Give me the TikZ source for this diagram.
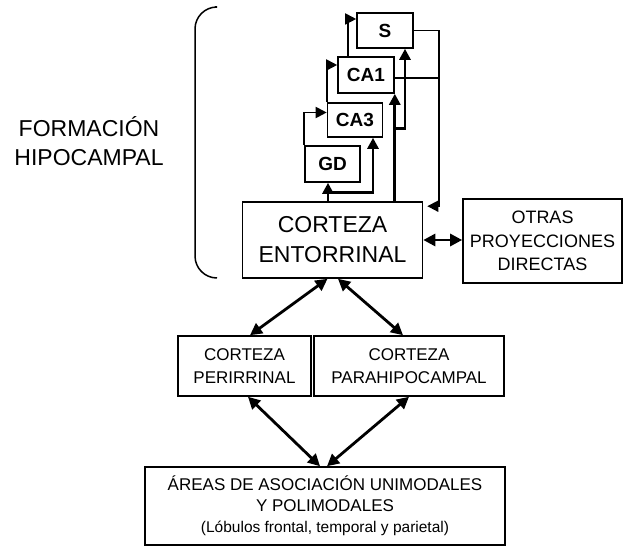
\documentclass[tikz,border=0pt]{standalone}
\usepackage{fontspec}
\setmainfont{Liberation Sans}
\usetikzlibrary{arrows.meta}

\begin{document}
\begin{tikzpicture}[x=1pt, y=-1pt, % pixel-like units, y going down
    caja/.style={draw, line width=1.6pt, inner sep=0pt, align=center},
    hipo/.style={caja, font=\fontsize{19}{22}\selectfont\bfseries},
    via/.style={line width=1.8pt, -{Triangle[length=11pt,width=11pt]}},
    perforante/.style={via, line width=2.8pt},
    doble/.style={line width=2.8pt, {Triangle[length=12pt,width=12pt]}-{Triangle[length=12pt,width=12pt]}}]

        \useasboundingbox (0,0) rectangle (627,548);

        % Hippocampal formation label and bracket
        \node[align=center, font=\fontsize{23}{29}\selectfont] (formacion) at (89,141.5) {FORMACIÓN\\HIPOCAMPAL};
        \draw[line width=1.5pt, rounded corners=22pt] (215,7) -- (195,7) -- (195,278) -- (217,278);

        % Hippocampal boxes
        \node[hipo, minimum width=56, minimum height=35] (S) at (385,30.5) {S};
        \node[hipo, minimum width=56, minimum height=36] (CA1) at (366,75) {CA1};
        \node[hipo, minimum width=55, minimum height=34] (CA3) at (355,120) {CA3};
        \node[hipo, minimum width=55, minimum height=36] (GD) at (332.5,164) {GD};

        % Cortical boxes
        \node[caja, minimum width=180, minimum height=76, font=\fontsize{23}{30}\selectfont] (ento) at (332.5,240) {CORTEZA\\ENTORRINAL};
        \node[caja, minimum width=159, minimum height=84, font=\fontsize{18}{23.5}\selectfont] (otras) at (542.5,241) {OTRAS\\PROYECCIONES\\DIRECTAS};
        \node[caja, minimum width=133, minimum height=60, font=\fontsize{17}{22.5}\selectfont] (peri) at (244.5,366) {CORTEZA\\PERIRRINAL};
        \node[caja, minimum width=190, minimum height=60, font=\fontsize{17}{22.5}\selectfont] (para) at (409,366) {CORTEZA\\PARAHIPOCAMPAL};
        \node[caja, minimum width=360, minimum height=78, font=\fontsize{17}{21}\selectfont] (areas) at (325,506)
            {ÁREAS DE ASOCIACIÓN UNIMODALES\\Y POLIMODALES\\{\fontsize{15.5}{21}\selectfont (Lóbulos frontal, temporal y parietal)}};

        % Perforant path from the entorhinal cortex
        \draw[perforante] ([xshift=-4.5pt]GD.south |- ento.north) -- ([xshift=-4.5pt]GD.south);
        \draw[perforante] ([xshift=-4.5pt,yshift=-10pt]GD.south) -| ([xshift=18pt]CA3.south);
        \draw[perforante] (CA1.south east |- ento.north) -- (CA1.south east);
        \draw[perforante] ([yshift=-35pt]CA1.south east) -| ([xshift=20pt]S.south);

        % Trisynaptic loop
        \draw[via] (GD.north west) |- ([yshift=7.5pt]CA3.west);
        \draw[via] (CA3.north west) |- ([yshift=10pt]CA1.west);
        \draw[via] ([xshift=11pt]CA1.north west) |- ([yshift=11.5pt]S.west);

        % Return to the entorhinal cortex
        \draw[via] (S.east) -- ++(25,0) |- ([xshift=4pt,yshift=-5pt]ento.north east);
        \draw[line width=1.8pt] ([yshift=-3pt]CA1.east) -- ++(44,0);

        % Two-way connections
        \draw[doble] (ento.east) -- (ento.east -| otras.west);
        \draw[doble] ([xshift=-5pt]ento.south) -- ([xshift=5.5pt]peri.north);
        \draw[doble] ([xshift=5.5pt]ento.south) -- ([xshift=-6pt]para.north);
        \draw[doble] ([xshift=3.5pt]peri.south) -- ([xshift=-5pt]areas.north);
        \draw[doble] (para.south) -- ([xshift=2pt]areas.north);
    \end{tikzpicture}
\end{document}
